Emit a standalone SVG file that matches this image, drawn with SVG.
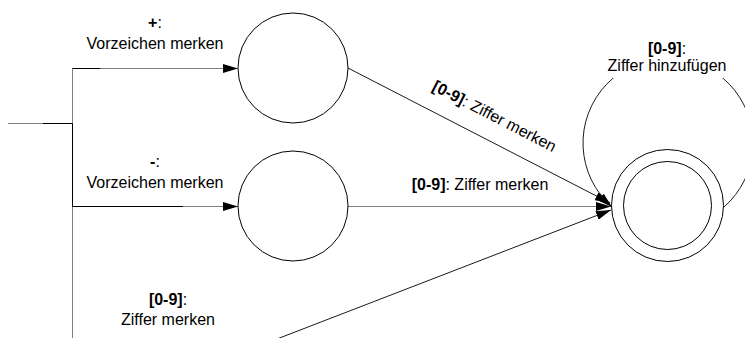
<svg xmlns="http://www.w3.org/2000/svg" width="745" height="338" viewBox="0 0 745 338">
  <defs>
    <marker id="arrow" viewBox="0 0 15 9" refX="15" refY="4.5" markerWidth="15" markerHeight="9" markerUnits="userSpaceOnUse" orient="auto">
      <path d="M0,0 L15,4.5 L0,9 z" fill="#000"/>
    </marker>
    <style>
      .state { fill: #fff; stroke: #000; stroke-width: 1; }
      .wire { fill: none; stroke: #808080; stroke-width: 1; }
      .wire-dark { fill: none; stroke: #000; stroke-width: 1; }
      .edge { fill: none; stroke: #1a1a1a; stroke-width: 1; }
      text { font-family: "Liberation Sans", Arial, sans-serif; font-size: 16px; fill: #000; }
      .lbl { text-anchor: middle; }
      .b { font-weight: bold; }
    </style>
  </defs>
  <rect width="745" height="338" fill="#fff"/>

  <!-- transitions -->
  <g id="connectors">
    <!-- start line and branching bus -->
    <path class="wire" d="M8,123.5 H72.5 M72.5,68.5 V338"/>
    <path class="wire" d="M72.5,68.5 H238" marker-end="url(#arrow)"/>
    <path class="wire" d="M72.5,206.5 H238" marker-end="url(#arrow)"/>
    <path class="wire-dark" d="M43,123.5 H72.5 V206.5 H183 M72.5,68.5 H100"/>
    <!-- to the accepting state -->
    <path class="edge" d="M348,68 L610,203" marker-end="url(#arrow)"/>
    <path class="wire" d="M348,206.5 H611" marker-end="url(#arrow)"/>
    <path class="edge" d="M250,349.4 L611,210" marker-end="url(#arrow)"/>
    <!-- self loop -->
    <path class="edge" d="M724,207 A85,85 0 1 0 612,207" marker-end="url(#arrow)"/>
  </g>

  <!-- states -->
  <g id="state-plus">
    <circle class="state" cx="293" cy="68" r="55"/>
  </g>
  <g id="state-minus">
    <circle class="state" cx="293" cy="206" r="55"/>
  </g>
  <g id="state-number">
    <circle class="state" cx="667.5" cy="205.5" r="56"/>
    <circle class="state" cx="667.5" cy="205.5" r="44"/>
  </g>

  <!-- labels -->
  <g id="label-plus">
    <text class="lbl" x="155" y="28"><tspan class="b">+</tspan>:</text>
    <text class="lbl" x="155" y="49">Vorzeichen merken</text>
  </g>
  <g id="label-minus">
    <text class="lbl" x="155" y="167"><tspan class="b">-</tspan>:</text>
    <text class="lbl" x="155" y="188">Vorzeichen merken</text>
  </g>
  <g id="label-digit-start">
    <text class="lbl" x="168" y="305"><tspan class="b">[0-9]</tspan>:</text>
    <text class="lbl" x="168" y="325">Ziffer merken</text>
  </g>
  <g id="label-diagonal">
    <text class="lbl" transform="translate(492,121) rotate(27.2)"><tspan class="b">[0-9]</tspan>: Ziffer merken</text>
  </g>
  <g id="label-horizontal">
    <text class="lbl" x="480" y="190"><tspan class="b">[0-9]</tspan>: Ziffer merken</text>
  </g>
  <g id="label-loop">
    <rect x="600" y="36" width="136" height="42" fill="#fff"/>
    <text class="lbl" x="667" y="54"><tspan class="b">[0-9]</tspan>:</text>
    <text class="lbl" x="667" y="71">Ziffer hinzufügen</text>
  </g>
</svg>
